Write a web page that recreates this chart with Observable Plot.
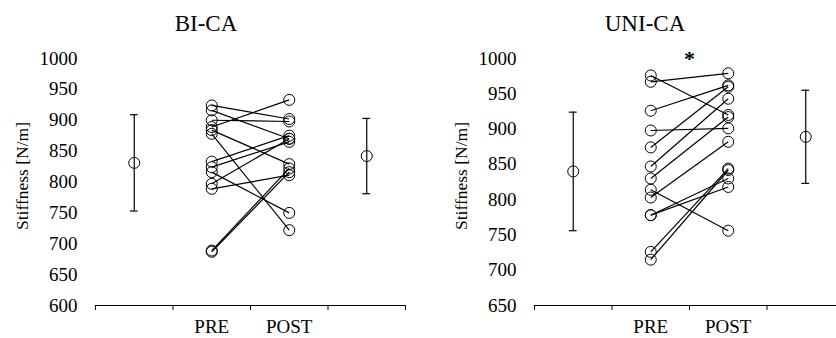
<!DOCTYPE html>
<html><head><meta charset="utf-8">
<script src="https://cdn.jsdelivr.net/npm/d3@7"></script>
<script src="https://cdn.jsdelivr.net/npm/@observablehq/plot@0.6"></script>
<style>
body{margin:0;background:#fff;overflow:hidden;font-family:"Liberation Serif",serif;}
#wrap{position:relative;width:836px;height:338px;overflow:hidden;background:#fff;}
.panel{position:absolute;top:0;}
.panel svg{max-width:none !important;overflow:visible;}
.title{position:absolute;top:12px;font-size:23px;line-height:23px;color:#000;transform:translateX(-50%);white-space:nowrap;font-family:"Liberation Serif",serif;}
</style></head><body><div id="wrap"></div>
<script>
// ---- data ----
const categories = ["PRE", "POST"];
const panelTitles = ["BI-CA", "UNI-CA"];
const yLabel = "Stiffness [N/m]";
const yTicksBI = [600, 650, 700, 750, 800, 850, 900, 950, 1000];
const yTicksUNI = [650, 700, 750, 800, 850, 900, 950, 1000];

const biPre  = [924, 916, 900, 889, 884, 878, 833, 824, 816, 797, 789, 689, 687];
const biPost = [902, 870, 898, 933, 829, 722, 875, 865, 750, 870, 811, 822, 816];
const uniPre  = [967, 976, 926, 898, 874, 847, 830, 814, 803, 778, 778, 726, 715];
const uniPost = [979, 920, 962, 901, 960, 943, 917, 756, 882, 830, 818, 844, 842];

const biMean = [831, 842];
const biSD = [78, 61];
const uniMean = [840, 889];
const uniSD = [84, 66];
const significance = ["", "*"];

// ---- drawing ----
const wrap = document.getElementById("wrap");
const FONT = "Liberation Serif";

function panel({pre, post, mean, sd, yDomain, yTicks, sig, marginLeft, width, left, title, titleX}) {
  const slot = i => i + 1.5;            // PRE -> 1.5, POST -> 2.5
  const meanSlot = i => i === 0 ? 0.5 : 3.5;
  const pairs = pre.map((p, i) => ({pre: p, post: post[i]}));
  const dots = [
    ...pre.map(v => ({x: slot(0), y: v})),
    ...post.map(v => ({x: slot(1), y: v}))
  ];
  const stats = mean.map((m, i) => ({x: meanSlot(i), m, lo: m - sd[i], hi: m + sd[i]}));
  const sigData = [{x: 2, y: yDomain[1], t: sig}].filter(d => d.t);
  const labelData = [{y: (yDomain[0] + yDomain[1]) / 2, t: yLabel}];
  const cap = 0.05;
  const chart = Plot.plot({
    width, height: 338,
    marginLeft, marginRight: 0, marginTop: 58, marginBottom: 33,
    x: {domain: [0, 4]},
    y: {domain: yDomain},
    style: {fontFamily: FONT, fontSize: "19px", color: "#000", background: "transparent", overflow: "visible", maxWidth: "none"},
    marks: [
      Plot.axisY({ticks: yTicks, tickSize: 0, tickPadding: 18, tickFormat: d => String(d), label: null, fontSize: 19, fontFamily: FONT}),
      Plot.text(labelData, {x: 0, y: "y", text: "t", rotate: -90, dx: -80, dy: -6, lineAnchor: "top", textAnchor: "middle", fontSize: 17.5, fontFamily: FONT, fill: "#000"}),
      Plot.ruleY([yDomain[0]], {x1: 0, x2: 4, stroke: "#000", strokeWidth: 1.2}),
      Plot.axisX({ticks: [0, 1, 2, 3, 4], tickSize: 5, tickFormat: () => "", label: null, stroke: "#000"}),
      Plot.axisX({ticks: categories.map((c, i) => slot(i)), tickSize: 0, tickPadding: 14, tickFormat: d => categories[d - 1.5], label: null, fontSize: 19, fontFamily: FONT}),
      Plot.link(pairs, {x1: () => slot(0), x2: () => slot(1), y1: "pre", y2: "post", stroke: "#000", strokeWidth: 1.2}),
      Plot.dot(dots, {x: "x", y: "y", r: 5.5, stroke: "#000", fill: "none", strokeWidth: 1}),
      Plot.ruleX(stats, {x: "x", y1: "lo", y2: "hi", stroke: "#000", strokeWidth: 1.2}),
      Plot.ruleY(stats, {x1: d => d.x - cap, x2: d => d.x + cap, y: "hi", stroke: "#000", strokeWidth: 1.2}),
      Plot.ruleY(stats, {x1: d => d.x - cap, x2: d => d.x + cap, y: "lo", stroke: "#000", strokeWidth: 1.2}),
      Plot.dot(stats, {x: "x", y: "m", r: 5.5, stroke: "#000", fill: "none", strokeWidth: 1}),
      Plot.text(sigData, {x: "x", y: "y", text: "t", fontSize: 22, fontWeight: "bold", dy: 0, fill: "#000", fontFamily: FONT})
    ]
  });
  const div = document.createElement("div");
  div.className = "panel";
  div.style.left = left + "px";
  div.style.width = width + "px";
  div.appendChild(chart);
  wrap.appendChild(div);
  const t = document.createElement("div");
  t.className = "title";
  t.textContent = title;
  t.style.left = titleX + "px";
  wrap.appendChild(t);
}

panel({pre: biPre, post: biPost, mean: biMean, sd: biSD, yDomain: [600, 1000], yTicks: yTicksBI,
  sig: significance[0], marginLeft: 95, width: 405, left: 0, title: panelTitles[0], titleX: 206});
panel({pre: uniPre, post: uniPost, mean: uniMean, sd: uniSD, yDomain: [650, 1000], yTicks: yTicksUNI,
  sig: significance[1], marginLeft: 116, width: 426, left: 418, title: panelTitles[1], titleX: 645});
</script></body></html>
